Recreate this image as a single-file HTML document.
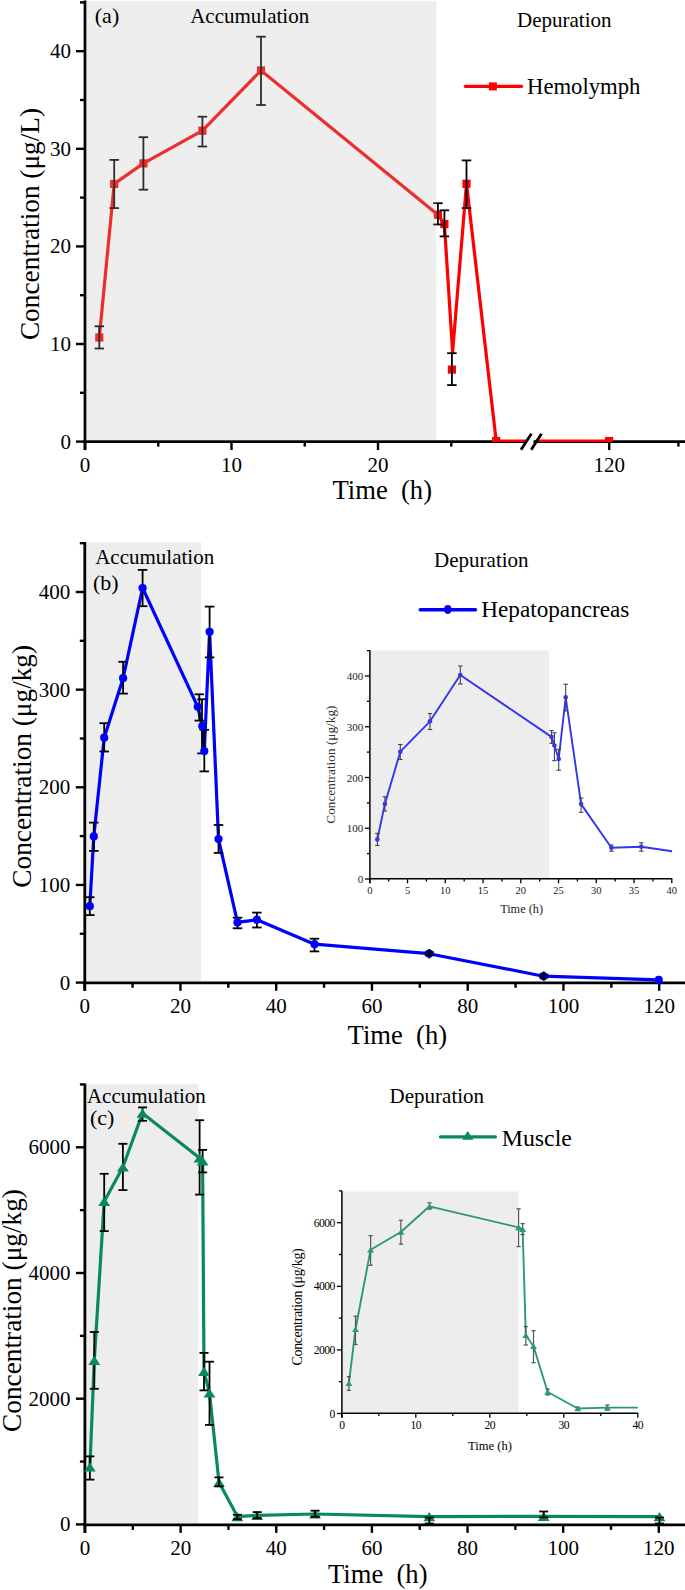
<!DOCTYPE html>
<html><head><meta charset="utf-8"><style>
html,body{margin:0;padding:0;background:#fff;}
svg{display:block;}
text{font-family:"Liberation Serif", serif;white-space:pre;}
</style></head><body>
<svg width="685" height="1590" viewBox="0 0 685 1590" font-family='"Liberation Serif", serif'>
<rect width="685" height="1590" fill="#fff"/>
<line x1="85.00" y1="0.50" x2="85.00" y2="450.10" stroke="#000" stroke-width="2.8" />
<line x1="76.00" y1="441.60" x2="85.00" y2="441.60" stroke="#000" stroke-width="2.4" />
<line x1="80.00" y1="392.80" x2="85.00" y2="392.80" stroke="#000" stroke-width="2.4" />
<line x1="76.00" y1="344.00" x2="85.00" y2="344.00" stroke="#000" stroke-width="2.4" />
<line x1="80.00" y1="295.20" x2="85.00" y2="295.20" stroke="#000" stroke-width="2.4" />
<line x1="76.00" y1="246.40" x2="85.00" y2="246.40" stroke="#000" stroke-width="2.4" />
<line x1="80.00" y1="197.60" x2="85.00" y2="197.60" stroke="#000" stroke-width="2.4" />
<line x1="76.00" y1="148.80" x2="85.00" y2="148.80" stroke="#000" stroke-width="2.4" />
<line x1="80.00" y1="100.00" x2="85.00" y2="100.00" stroke="#000" stroke-width="2.4" />
<line x1="76.00" y1="51.20" x2="85.00" y2="51.20" stroke="#000" stroke-width="2.4" />
<line x1="80.00" y1="2.40" x2="85.00" y2="2.40" stroke="#000" stroke-width="2.4" />
<text x="71.00" y="448.60" font-size="21" text-anchor="end" fill="#000" >0</text>
<text x="71.00" y="351.00" font-size="21" text-anchor="end" fill="#000" >10</text>
<text x="71.00" y="253.40" font-size="21" text-anchor="end" fill="#000" >20</text>
<text x="71.00" y="155.80" font-size="21" text-anchor="end" fill="#000" >30</text>
<text x="71.00" y="58.20" font-size="21" text-anchor="end" fill="#000" >40</text>
<line x1="83.60" y1="441.60" x2="524.50" y2="441.60" stroke="#000" stroke-width="2.8" />
<line x1="533.50" y1="441.60" x2="685.00" y2="441.60" stroke="#000" stroke-width="2.8" />
<line x1="85.00" y1="441.60" x2="85.00" y2="450.10" stroke="#000" stroke-width="2.4" />
<text x="85.00" y="471.50" font-size="21" text-anchor="middle" fill="#000" >0</text>
<line x1="231.50" y1="441.60" x2="231.50" y2="450.10" stroke="#000" stroke-width="2.4" />
<text x="231.50" y="471.50" font-size="21" text-anchor="middle" fill="#000" >10</text>
<line x1="378.00" y1="441.60" x2="378.00" y2="450.10" stroke="#000" stroke-width="2.4" />
<text x="378.00" y="471.50" font-size="21" text-anchor="middle" fill="#000" >20</text>
<line x1="158.25" y1="441.60" x2="158.25" y2="446.60" stroke="#000" stroke-width="2.4" />
<line x1="304.75" y1="441.60" x2="304.75" y2="446.60" stroke="#000" stroke-width="2.4" />
<line x1="451.25" y1="441.60" x2="451.25" y2="446.60" stroke="#000" stroke-width="2.4" />
<line x1="609.20" y1="441.60" x2="609.20" y2="450.10" stroke="#000" stroke-width="2.4" />
<text x="609.20" y="471.50" font-size="21" text-anchor="middle" fill="#000" >120</text>
<line x1="678.40" y1="441.60" x2="678.40" y2="446.60" stroke="#000" stroke-width="2.4" />
<clipPath id="ca"><rect x="0" y="0" width="685" height="442"/></clipPath>
<g clip-path="url(#ca)">
<polyline points="99.30,337.50 114.20,183.90 143.40,163.40 202.40,130.70 261.00,70.50 437.90,214.70 444.40,224.10 452.60,352.00 466.50,183.80 496.20,441.00" fill="none" stroke="#ff0000" stroke-width="3.2" stroke-linejoin="round" />
<line x1="496.20" y1="441.00" x2="526.00" y2="441.00" stroke="#ff0000" stroke-width="3.0" />
<line x1="536.00" y1="441.00" x2="609.00" y2="441.00" stroke="#ff0000" stroke-width="3.0" />
<rect x="95.20" y="333.40" width="8.2" height="8.2" fill="#ff0000"/>
<rect x="110.10" y="179.80" width="8.2" height="8.2" fill="#ff0000"/>
<rect x="139.30" y="159.30" width="8.2" height="8.2" fill="#ff0000"/>
<rect x="198.30" y="126.60" width="8.2" height="8.2" fill="#ff0000"/>
<rect x="256.90" y="66.40" width="8.2" height="8.2" fill="#ff0000"/>
<rect x="433.80" y="210.60" width="8.2" height="8.2" fill="#ff0000"/>
<rect x="440.30" y="220.00" width="8.2" height="8.2" fill="#ff0000"/>
<rect x="462.40" y="179.70" width="8.2" height="8.2" fill="#ff0000"/>
<rect x="492.10" y="436.90" width="8.2" height="8.2" fill="#ff0000"/>
<rect x="447.80" y="365.50" width="8.2" height="8.2" fill="#ff0000"/>
<rect x="604.90" y="436.90" width="8.2" height="8.2" fill="#ff0000"/>
</g>
<line x1="99.30" y1="326.30" x2="99.30" y2="348.50" stroke="#000" stroke-width="1.8" />
<line x1="94.55" y1="326.30" x2="104.05" y2="326.30" stroke="#000" stroke-width="1.8" />
<line x1="94.55" y1="348.50" x2="104.05" y2="348.50" stroke="#000" stroke-width="1.8" />
<line x1="114.20" y1="159.90" x2="114.20" y2="208.10" stroke="#000" stroke-width="1.8" />
<line x1="109.45" y1="159.90" x2="118.95" y2="159.90" stroke="#000" stroke-width="1.8" />
<line x1="109.45" y1="208.10" x2="118.95" y2="208.10" stroke="#000" stroke-width="1.8" />
<line x1="143.40" y1="137.20" x2="143.40" y2="189.70" stroke="#000" stroke-width="1.8" />
<line x1="138.65" y1="137.20" x2="148.15" y2="137.20" stroke="#000" stroke-width="1.8" />
<line x1="138.65" y1="189.70" x2="148.15" y2="189.70" stroke="#000" stroke-width="1.8" />
<line x1="202.40" y1="116.70" x2="202.40" y2="146.50" stroke="#000" stroke-width="1.8" />
<line x1="197.65" y1="116.70" x2="207.15" y2="116.70" stroke="#000" stroke-width="1.8" />
<line x1="197.65" y1="146.50" x2="207.15" y2="146.50" stroke="#000" stroke-width="1.8" />
<line x1="261.00" y1="36.70" x2="261.00" y2="105.00" stroke="#000" stroke-width="1.8" />
<line x1="256.25" y1="36.70" x2="265.75" y2="36.70" stroke="#000" stroke-width="1.8" />
<line x1="256.25" y1="105.00" x2="265.75" y2="105.00" stroke="#000" stroke-width="1.8" />
<line x1="437.90" y1="203.20" x2="437.90" y2="224.50" stroke="#000" stroke-width="1.8" />
<line x1="433.15" y1="203.20" x2="442.65" y2="203.20" stroke="#000" stroke-width="1.8" />
<line x1="433.15" y1="224.50" x2="442.65" y2="224.50" stroke="#000" stroke-width="1.8" />
<line x1="444.40" y1="210.30" x2="444.40" y2="236.40" stroke="#000" stroke-width="1.8" />
<line x1="439.65" y1="210.30" x2="449.15" y2="210.30" stroke="#000" stroke-width="1.8" />
<line x1="439.65" y1="236.40" x2="449.15" y2="236.40" stroke="#000" stroke-width="1.8" />
<line x1="451.90" y1="353.20" x2="451.90" y2="385.10" stroke="#000" stroke-width="1.8" />
<line x1="447.15" y1="353.20" x2="456.65" y2="353.20" stroke="#000" stroke-width="1.8" />
<line x1="447.15" y1="385.10" x2="456.65" y2="385.10" stroke="#000" stroke-width="1.8" />
<line x1="466.50" y1="160.40" x2="466.50" y2="208.10" stroke="#000" stroke-width="1.8" />
<line x1="461.75" y1="160.40" x2="471.25" y2="160.40" stroke="#000" stroke-width="1.8" />
<line x1="461.75" y1="208.10" x2="471.25" y2="208.10" stroke="#000" stroke-width="1.8" />
<rect x="86.4" y="1" width="350.0" height="439.20000000000005" fill="rgb(185,185,185)" fill-opacity="0.243"/>
<polygon points="520.5,450 524.5,450 535.5,433.5 531.5,433.5" fill="#fff"/>
<line x1="521.00" y1="449.80" x2="531.40" y2="433.80" stroke="#000" stroke-width="2.8" />
<line x1="531.20" y1="449.80" x2="541.50" y2="433.80" stroke="#000" stroke-width="2.8" />
<text x="94.80" y="22.80" font-size="22" text-anchor="start" fill="#000" >(a)</text>
<text x="190.20" y="22.70" font-size="21" text-anchor="start" fill="#000" >Accumulation</text>
<text x="517.00" y="26.80" font-size="21" text-anchor="start" fill="#000" >Depuration</text>
<line x1="465.30" y1="86.30" x2="521.50" y2="86.30" stroke="#ff0000" stroke-width="3.3" stroke-linecap="round"/>
<rect x="488.90" y="82.40" width="8" height="8" fill="#ff0000"/>
<text x="527.00" y="94.30" font-size="22.7" text-anchor="start" fill="#000" >Hemolymph</text>
<text x="332.50" y="499.40" font-size="26.6" text-anchor="start" fill="#000" >Time  (h)</text>
<text transform="translate(39.4,224) rotate(-90)" font-size="27.3" text-anchor="middle">Concentration (μg/L)</text>
<rect x="86.2" y="542.5" width="114.99999999999999" height="438.9" fill="#ededed"/>
<line x1="84.80" y1="542.00" x2="84.80" y2="990.80" stroke="#000" stroke-width="2.8" />
<line x1="75.80" y1="982.60" x2="84.80" y2="982.60" stroke="#000" stroke-width="2.4" />
<line x1="79.80" y1="933.77" x2="84.80" y2="933.77" stroke="#000" stroke-width="2.4" />
<line x1="75.80" y1="884.95" x2="84.80" y2="884.95" stroke="#000" stroke-width="2.4" />
<line x1="79.80" y1="836.12" x2="84.80" y2="836.12" stroke="#000" stroke-width="2.4" />
<line x1="75.80" y1="787.30" x2="84.80" y2="787.30" stroke="#000" stroke-width="2.4" />
<line x1="79.80" y1="738.48" x2="84.80" y2="738.48" stroke="#000" stroke-width="2.4" />
<line x1="75.80" y1="689.65" x2="84.80" y2="689.65" stroke="#000" stroke-width="2.4" />
<line x1="79.80" y1="640.83" x2="84.80" y2="640.83" stroke="#000" stroke-width="2.4" />
<line x1="75.80" y1="592.00" x2="84.80" y2="592.00" stroke="#000" stroke-width="2.4" />
<line x1="79.80" y1="543.17" x2="84.80" y2="543.17" stroke="#000" stroke-width="2.4" />
<text x="70.30" y="989.60" font-size="21" text-anchor="end" fill="#000" >0</text>
<text x="70.30" y="891.95" font-size="21" text-anchor="end" fill="#000" >100</text>
<text x="70.30" y="794.30" font-size="21" text-anchor="end" fill="#000" >200</text>
<text x="70.30" y="696.65" font-size="21" text-anchor="end" fill="#000" >300</text>
<text x="70.30" y="599.00" font-size="21" text-anchor="end" fill="#000" >400</text>
<line x1="83.40" y1="982.80" x2="685.00" y2="982.80" stroke="#000" stroke-width="2.8" />
<line x1="84.70" y1="982.80" x2="84.70" y2="990.80" stroke="#000" stroke-width="2.4" />
<line x1="132.57" y1="982.80" x2="132.57" y2="987.80" stroke="#000" stroke-width="2.4" />
<line x1="180.45" y1="982.80" x2="180.45" y2="990.80" stroke="#000" stroke-width="2.4" />
<line x1="228.32" y1="982.80" x2="228.32" y2="987.80" stroke="#000" stroke-width="2.4" />
<line x1="276.20" y1="982.80" x2="276.20" y2="990.80" stroke="#000" stroke-width="2.4" />
<line x1="324.07" y1="982.80" x2="324.07" y2="987.80" stroke="#000" stroke-width="2.4" />
<line x1="371.95" y1="982.80" x2="371.95" y2="990.80" stroke="#000" stroke-width="2.4" />
<line x1="419.82" y1="982.80" x2="419.82" y2="987.80" stroke="#000" stroke-width="2.4" />
<line x1="467.70" y1="982.80" x2="467.70" y2="990.80" stroke="#000" stroke-width="2.4" />
<line x1="515.57" y1="982.80" x2="515.57" y2="987.80" stroke="#000" stroke-width="2.4" />
<line x1="563.45" y1="982.80" x2="563.45" y2="990.80" stroke="#000" stroke-width="2.4" />
<line x1="611.33" y1="982.80" x2="611.33" y2="987.80" stroke="#000" stroke-width="2.4" />
<line x1="659.20" y1="982.80" x2="659.20" y2="990.80" stroke="#000" stroke-width="2.4" />
<text x="84.70" y="1013.00" font-size="21" text-anchor="middle" fill="#000" >0</text>
<text x="180.45" y="1013.00" font-size="21" text-anchor="middle" fill="#000" >20</text>
<text x="276.20" y="1013.00" font-size="21" text-anchor="middle" fill="#000" >40</text>
<text x="371.95" y="1013.00" font-size="21" text-anchor="middle" fill="#000" >60</text>
<text x="467.70" y="1013.00" font-size="21" text-anchor="middle" fill="#000" >80</text>
<text x="563.45" y="1013.00" font-size="21" text-anchor="middle" fill="#000" >100</text>
<text x="659.20" y="1013.00" font-size="21" text-anchor="middle" fill="#000" >120</text>
<polyline points="89.80,906.20 93.80,836.40 104.20,737.70 123.10,678.20 142.60,588.00 197.80,706.80 202.30,726.20 204.30,751.00 209.60,631.80 218.50,839.10 237.50,922.40 256.90,919.70 314.50,944.20 429.10,953.70 543.50,976.20 658.70,979.90" fill="none" stroke="#0000ff" stroke-width="3.2" stroke-linejoin="round" />
<line x1="89.80" y1="897.20" x2="89.80" y2="915.10" stroke="#000" stroke-width="1.8" />
<line x1="85.05" y1="897.20" x2="94.55" y2="897.20" stroke="#000" stroke-width="1.8" />
<line x1="85.05" y1="915.10" x2="94.55" y2="915.10" stroke="#000" stroke-width="1.8" />
<line x1="93.80" y1="822.60" x2="93.80" y2="850.90" stroke="#000" stroke-width="1.8" />
<line x1="89.05" y1="822.60" x2="98.55" y2="822.60" stroke="#000" stroke-width="1.8" />
<line x1="89.05" y1="850.90" x2="98.55" y2="850.90" stroke="#000" stroke-width="1.8" />
<line x1="104.20" y1="723.20" x2="104.20" y2="751.50" stroke="#000" stroke-width="1.8" />
<line x1="99.45" y1="723.20" x2="108.95" y2="723.20" stroke="#000" stroke-width="1.8" />
<line x1="99.45" y1="751.50" x2="108.95" y2="751.50" stroke="#000" stroke-width="1.8" />
<line x1="123.10" y1="661.80" x2="123.10" y2="693.60" stroke="#000" stroke-width="1.8" />
<line x1="118.35" y1="661.80" x2="127.85" y2="661.80" stroke="#000" stroke-width="1.8" />
<line x1="118.35" y1="693.60" x2="127.85" y2="693.60" stroke="#000" stroke-width="1.8" />
<line x1="142.60" y1="569.90" x2="142.60" y2="606.20" stroke="#000" stroke-width="1.8" />
<line x1="137.85" y1="569.90" x2="147.35" y2="569.90" stroke="#000" stroke-width="1.8" />
<line x1="137.85" y1="606.20" x2="147.35" y2="606.20" stroke="#000" stroke-width="1.8" />
<line x1="199.30" y1="694.30" x2="199.30" y2="720.60" stroke="#000" stroke-width="1.8" />
<line x1="194.55" y1="694.30" x2="204.05" y2="694.30" stroke="#000" stroke-width="1.8" />
<line x1="194.55" y1="720.60" x2="204.05" y2="720.60" stroke="#000" stroke-width="1.8" />
<line x1="202.00" y1="699.30" x2="202.00" y2="753.40" stroke="#000" stroke-width="1.8" />
<line x1="197.25" y1="699.30" x2="206.75" y2="699.30" stroke="#000" stroke-width="1.8" />
<line x1="197.25" y1="753.40" x2="206.75" y2="753.40" stroke="#000" stroke-width="1.8" />
<line x1="204.30" y1="729.80" x2="204.30" y2="771.40" stroke="#000" stroke-width="1.8" />
<line x1="199.55" y1="729.80" x2="209.05" y2="729.80" stroke="#000" stroke-width="1.8" />
<line x1="199.55" y1="771.40" x2="209.05" y2="771.40" stroke="#000" stroke-width="1.8" />
<line x1="209.60" y1="606.60" x2="209.60" y2="657.40" stroke="#000" stroke-width="1.8" />
<line x1="204.85" y1="606.60" x2="214.35" y2="606.60" stroke="#000" stroke-width="1.8" />
<line x1="204.85" y1="657.40" x2="214.35" y2="657.40" stroke="#000" stroke-width="1.8" />
<line x1="218.50" y1="825.00" x2="218.50" y2="852.90" stroke="#000" stroke-width="1.8" />
<line x1="213.75" y1="825.00" x2="223.25" y2="825.00" stroke="#000" stroke-width="1.8" />
<line x1="213.75" y1="852.90" x2="223.25" y2="852.90" stroke="#000" stroke-width="1.8" />
<line x1="237.50" y1="917.70" x2="237.50" y2="928.30" stroke="#000" stroke-width="1.8" />
<line x1="232.75" y1="917.70" x2="242.25" y2="917.70" stroke="#000" stroke-width="1.8" />
<line x1="232.75" y1="928.30" x2="242.25" y2="928.30" stroke="#000" stroke-width="1.8" />
<line x1="256.90" y1="912.60" x2="256.90" y2="927.50" stroke="#000" stroke-width="1.8" />
<line x1="252.15" y1="912.60" x2="261.65" y2="912.60" stroke="#000" stroke-width="1.8" />
<line x1="252.15" y1="927.50" x2="261.65" y2="927.50" stroke="#000" stroke-width="1.8" />
<line x1="314.50" y1="938.70" x2="314.50" y2="951.40" stroke="#000" stroke-width="1.8" />
<line x1="309.75" y1="938.70" x2="319.25" y2="938.70" stroke="#000" stroke-width="1.8" />
<line x1="309.75" y1="951.40" x2="319.25" y2="951.40" stroke="#000" stroke-width="1.8" />
<circle cx="89.80" cy="906.20" r="4.1" fill="#0000ff"/>
<circle cx="93.80" cy="836.40" r="4.1" fill="#0000ff"/>
<circle cx="104.20" cy="737.70" r="4.1" fill="#0000ff"/>
<circle cx="123.10" cy="678.20" r="4.1" fill="#0000ff"/>
<circle cx="142.60" cy="588.00" r="4.1" fill="#0000ff"/>
<circle cx="197.80" cy="706.80" r="4.1" fill="#0000ff"/>
<circle cx="202.30" cy="726.20" r="4.1" fill="#0000ff"/>
<circle cx="204.30" cy="751.00" r="4.1" fill="#0000ff"/>
<circle cx="209.60" cy="631.80" r="4.1" fill="#0000ff"/>
<circle cx="218.50" cy="839.10" r="4.1" fill="#0000ff"/>
<circle cx="237.50" cy="922.40" r="4.1" fill="#0000ff"/>
<circle cx="256.90" cy="919.70" r="4.1" fill="#0000ff"/>
<circle cx="314.50" cy="944.20" r="4.1" fill="#0000ff"/>
<circle cx="429.10" cy="953.70" r="4.1" fill="#0000ff"/>
<circle cx="543.50" cy="976.20" r="4.1" fill="#0000ff"/>
<circle cx="658.70" cy="979.90" r="4.1" fill="#0000ff"/>
<line x1="429.40" y1="949.00" x2="429.40" y2="958.40" stroke="#000" stroke-width="1.8" />
<line x1="424.90" y1="952.20" x2="433.90" y2="952.20" stroke="#000" stroke-width="1.8" />
<line x1="424.90" y1="955.20" x2="433.90" y2="955.20" stroke="#000" stroke-width="1.8" />
<line x1="543.80" y1="971.40" x2="543.80" y2="980.80" stroke="#000" stroke-width="1.8" />
<line x1="539.30" y1="974.60" x2="548.30" y2="974.60" stroke="#000" stroke-width="1.8" />
<line x1="539.30" y1="977.60" x2="548.30" y2="977.60" stroke="#000" stroke-width="1.8" />
<text x="95.20" y="564.10" font-size="21" text-anchor="start" fill="#000" >Accumulation</text>
<text x="93.00" y="589.80" font-size="22" text-anchor="start" fill="#000" >(b)</text>
<text x="434.10" y="567.00" font-size="21" text-anchor="start" fill="#000" >Depuration</text>
<line x1="420.20" y1="609.70" x2="475.50" y2="609.70" stroke="#0000ff" stroke-width="3.4" stroke-linecap="round"/>
<ellipse cx="447.8" cy="609.5" rx="3.7" ry="4.4" fill="#0000ff"/>
<text x="481.30" y="617.30" font-size="23.2" text-anchor="start" fill="#000" >Hepatopancreas</text>
<text x="347.60" y="1043.50" font-size="26.6" text-anchor="start" fill="#000" >Time  (h)</text>
<text transform="translate(31.4,766.3) rotate(-90)" font-size="27.3" text-anchor="middle">Concentration (μg/kg)</text>
<rect x="86.30000000000001" y="1083.7" width="112.0" height="439.79999999999995" fill="#ededed"/>
<line x1="84.90" y1="1083.50" x2="84.90" y2="1532.90" stroke="#000" stroke-width="2.8" />
<line x1="75.90" y1="1524.40" x2="84.90" y2="1524.40" stroke="#000" stroke-width="2.4" />
<line x1="79.90" y1="1461.55" x2="84.90" y2="1461.55" stroke="#000" stroke-width="2.4" />
<line x1="75.90" y1="1398.70" x2="84.90" y2="1398.70" stroke="#000" stroke-width="2.4" />
<line x1="79.90" y1="1335.85" x2="84.90" y2="1335.85" stroke="#000" stroke-width="2.4" />
<line x1="75.90" y1="1273.00" x2="84.90" y2="1273.00" stroke="#000" stroke-width="2.4" />
<line x1="79.90" y1="1210.15" x2="84.90" y2="1210.15" stroke="#000" stroke-width="2.4" />
<line x1="75.90" y1="1147.30" x2="84.90" y2="1147.30" stroke="#000" stroke-width="2.4" />
<line x1="79.90" y1="1084.45" x2="84.90" y2="1084.45" stroke="#000" stroke-width="2.4" />
<text x="70.60" y="1531.40" font-size="21" text-anchor="end" fill="#000" >0</text>
<text x="70.60" y="1405.70" font-size="21" text-anchor="end" fill="#000" >2000</text>
<text x="70.60" y="1280.00" font-size="21" text-anchor="end" fill="#000" >4000</text>
<text x="70.60" y="1154.30" font-size="21" text-anchor="end" fill="#000" >6000</text>
<line x1="83.50" y1="1524.90" x2="685.00" y2="1524.90" stroke="#000" stroke-width="2.8" />
<line x1="85.00" y1="1524.90" x2="85.00" y2="1532.90" stroke="#000" stroke-width="2.4" />
<line x1="132.82" y1="1524.90" x2="132.82" y2="1529.90" stroke="#000" stroke-width="2.4" />
<line x1="180.63" y1="1524.90" x2="180.63" y2="1532.90" stroke="#000" stroke-width="2.4" />
<line x1="228.45" y1="1524.90" x2="228.45" y2="1529.90" stroke="#000" stroke-width="2.4" />
<line x1="276.27" y1="1524.90" x2="276.27" y2="1532.90" stroke="#000" stroke-width="2.4" />
<line x1="324.08" y1="1524.90" x2="324.08" y2="1529.90" stroke="#000" stroke-width="2.4" />
<line x1="371.90" y1="1524.90" x2="371.90" y2="1532.90" stroke="#000" stroke-width="2.4" />
<line x1="419.72" y1="1524.90" x2="419.72" y2="1529.90" stroke="#000" stroke-width="2.4" />
<line x1="467.54" y1="1524.90" x2="467.54" y2="1532.90" stroke="#000" stroke-width="2.4" />
<line x1="515.35" y1="1524.90" x2="515.35" y2="1529.90" stroke="#000" stroke-width="2.4" />
<line x1="563.17" y1="1524.90" x2="563.17" y2="1532.90" stroke="#000" stroke-width="2.4" />
<line x1="610.99" y1="1524.90" x2="610.99" y2="1529.90" stroke="#000" stroke-width="2.4" />
<line x1="658.80" y1="1524.90" x2="658.80" y2="1532.90" stroke="#000" stroke-width="2.4" />
<text x="85.00" y="1554.60" font-size="21" text-anchor="middle" fill="#000" >0</text>
<text x="180.63" y="1554.60" font-size="21" text-anchor="middle" fill="#000" >20</text>
<text x="276.27" y="1554.60" font-size="21" text-anchor="middle" fill="#000" >40</text>
<text x="371.90" y="1554.60" font-size="21" text-anchor="middle" fill="#000" >60</text>
<text x="467.54" y="1554.60" font-size="21" text-anchor="middle" fill="#000" >80</text>
<text x="563.17" y="1554.60" font-size="21" text-anchor="middle" fill="#000" >100</text>
<text x="658.80" y="1554.60" font-size="21" text-anchor="middle" fill="#000" >120</text>
<polyline points="89.90,1467.00 94.30,1360.40 104.20,1201.40 122.90,1167.00 142.50,1113.20 199.60,1158.00 202.60,1161.00 204.00,1371.40 209.50,1393.00 219.00,1482.30 237.40,1516.60 257.20,1515.40 315.10,1514.00 429.30,1516.60 543.70,1516.40 659.50,1516.60" fill="none" stroke="#0a8a5a" stroke-width="3.2" stroke-linejoin="round" />
<line x1="89.90" y1="1456.40" x2="89.90" y2="1479.60" stroke="#000" stroke-width="1.8" />
<line x1="85.40" y1="1456.40" x2="94.40" y2="1456.40" stroke="#000" stroke-width="1.8" />
<line x1="85.40" y1="1479.60" x2="94.40" y2="1479.60" stroke="#000" stroke-width="1.8" />
<line x1="94.30" y1="1332.00" x2="94.30" y2="1388.80" stroke="#000" stroke-width="1.8" />
<line x1="89.80" y1="1332.00" x2="98.80" y2="1332.00" stroke="#000" stroke-width="1.8" />
<line x1="89.80" y1="1388.80" x2="98.80" y2="1388.80" stroke="#000" stroke-width="1.8" />
<line x1="104.20" y1="1173.80" x2="104.20" y2="1231.10" stroke="#000" stroke-width="1.8" />
<line x1="99.70" y1="1173.80" x2="108.70" y2="1173.80" stroke="#000" stroke-width="1.8" />
<line x1="99.70" y1="1231.10" x2="108.70" y2="1231.10" stroke="#000" stroke-width="1.8" />
<line x1="122.90" y1="1143.80" x2="122.90" y2="1190.10" stroke="#000" stroke-width="1.8" />
<line x1="118.40" y1="1143.80" x2="127.40" y2="1143.80" stroke="#000" stroke-width="1.8" />
<line x1="118.40" y1="1190.10" x2="127.40" y2="1190.10" stroke="#000" stroke-width="1.8" />
<line x1="142.50" y1="1107.40" x2="142.50" y2="1120.80" stroke="#000" stroke-width="1.8" />
<line x1="138.00" y1="1107.40" x2="147.00" y2="1107.40" stroke="#000" stroke-width="1.8" />
<line x1="138.00" y1="1120.80" x2="147.00" y2="1120.80" stroke="#000" stroke-width="1.8" />
<line x1="199.60" y1="1120.20" x2="199.60" y2="1194.60" stroke="#000" stroke-width="1.8" />
<line x1="195.10" y1="1120.20" x2="204.10" y2="1120.20" stroke="#000" stroke-width="1.8" />
<line x1="195.10" y1="1194.60" x2="204.10" y2="1194.60" stroke="#000" stroke-width="1.8" />
<line x1="202.60" y1="1149.90" x2="202.60" y2="1172.40" stroke="#000" stroke-width="1.8" />
<line x1="198.10" y1="1149.90" x2="207.10" y2="1149.90" stroke="#000" stroke-width="1.8" />
<line x1="198.10" y1="1172.40" x2="207.10" y2="1172.40" stroke="#000" stroke-width="1.8" />
<line x1="204.00" y1="1352.90" x2="204.00" y2="1390.40" stroke="#000" stroke-width="1.8" />
<line x1="199.50" y1="1352.90" x2="208.50" y2="1352.90" stroke="#000" stroke-width="1.8" />
<line x1="199.50" y1="1390.40" x2="208.50" y2="1390.40" stroke="#000" stroke-width="1.8" />
<line x1="209.50" y1="1361.70" x2="209.50" y2="1424.90" stroke="#000" stroke-width="1.8" />
<line x1="205.00" y1="1361.70" x2="214.00" y2="1361.70" stroke="#000" stroke-width="1.8" />
<line x1="205.00" y1="1424.90" x2="214.00" y2="1424.90" stroke="#000" stroke-width="1.8" />
<polygon points="89.90,1462.40 95.80,1471.60 84.00,1471.60" fill="#0a8a5a"/>
<polygon points="94.30,1355.80 100.20,1365.00 88.40,1365.00" fill="#0a8a5a"/>
<polygon points="104.20,1196.80 110.10,1206.00 98.30,1206.00" fill="#0a8a5a"/>
<polygon points="122.90,1162.40 128.80,1171.60 117.00,1171.60" fill="#0a8a5a"/>
<polygon points="142.50,1108.60 148.40,1117.80 136.60,1117.80" fill="#0a8a5a"/>
<polygon points="199.60,1153.40 205.50,1162.60 193.70,1162.60" fill="#0a8a5a"/>
<polygon points="202.60,1156.40 208.50,1165.60 196.70,1165.60" fill="#0a8a5a"/>
<polygon points="204.00,1366.80 209.90,1376.00 198.10,1376.00" fill="#0a8a5a"/>
<polygon points="209.50,1388.40 215.40,1397.60 203.60,1397.60" fill="#0a8a5a"/>
<polygon points="219.00,1477.70 224.90,1486.90 213.10,1486.90" fill="#0a8a5a"/>
<polygon points="237.40,1512.00 243.30,1521.20 231.50,1521.20" fill="#0a8a5a"/>
<polygon points="257.20,1510.80 263.10,1520.00 251.30,1520.00" fill="#0a8a5a"/>
<polygon points="315.10,1509.40 321.00,1518.60 309.20,1518.60" fill="#0a8a5a"/>
<polygon points="429.30,1512.00 435.20,1521.20 423.40,1521.20" fill="#0a8a5a"/>
<polygon points="543.70,1511.80 549.60,1521.00 537.80,1521.00" fill="#0a8a5a"/>
<polygon points="659.50,1512.00 665.40,1521.20 653.60,1521.20" fill="#0a8a5a"/>
<line x1="219.00" y1="1477.40" x2="219.00" y2="1486.40" stroke="#000" stroke-width="1.8" />
<line x1="214.50" y1="1477.40" x2="223.50" y2="1477.40" stroke="#000" stroke-width="1.8" />
<line x1="214.50" y1="1486.40" x2="223.50" y2="1486.40" stroke="#000" stroke-width="1.8" />
<line x1="237.40" y1="1514.80" x2="237.40" y2="1519.30" stroke="#000" stroke-width="1.8" />
<line x1="232.90" y1="1514.80" x2="241.90" y2="1514.80" stroke="#000" stroke-width="1.8" />
<line x1="232.90" y1="1519.30" x2="241.90" y2="1519.30" stroke="#000" stroke-width="1.8" />
<line x1="257.20" y1="1512.10" x2="257.20" y2="1518.20" stroke="#000" stroke-width="1.8" />
<line x1="252.70" y1="1512.10" x2="261.70" y2="1512.10" stroke="#000" stroke-width="1.8" />
<line x1="252.70" y1="1518.20" x2="261.70" y2="1518.20" stroke="#000" stroke-width="1.8" />
<line x1="315.10" y1="1510.70" x2="315.10" y2="1516.80" stroke="#000" stroke-width="1.8" />
<line x1="310.60" y1="1510.70" x2="319.60" y2="1510.70" stroke="#000" stroke-width="1.8" />
<line x1="310.60" y1="1516.80" x2="319.60" y2="1516.80" stroke="#000" stroke-width="1.8" />
<line x1="429.30" y1="1517.50" x2="429.30" y2="1523.50" stroke="#000" stroke-width="1.8" />
<line x1="424.80" y1="1517.50" x2="433.80" y2="1517.50" stroke="#000" stroke-width="1.8" />
<line x1="424.80" y1="1523.50" x2="433.80" y2="1523.50" stroke="#000" stroke-width="1.8" />
<line x1="543.70" y1="1511.50" x2="543.70" y2="1517.30" stroke="#000" stroke-width="1.8" />
<line x1="539.20" y1="1511.50" x2="548.20" y2="1511.50" stroke="#000" stroke-width="1.8" />
<line x1="539.20" y1="1517.30" x2="548.20" y2="1517.30" stroke="#000" stroke-width="1.8" />
<line x1="659.50" y1="1517.50" x2="659.50" y2="1523.50" stroke="#000" stroke-width="1.8" />
<line x1="655.00" y1="1517.50" x2="664.00" y2="1517.50" stroke="#000" stroke-width="1.8" />
<line x1="655.00" y1="1523.50" x2="664.00" y2="1523.50" stroke="#000" stroke-width="1.8" />
<text x="86.90" y="1102.90" font-size="21" text-anchor="start" fill="#000" >Accumulation</text>
<text x="90.00" y="1125.20" font-size="22" text-anchor="start" fill="#000" >(c)</text>
<text x="389.60" y="1103.40" font-size="21" text-anchor="start" fill="#000" >Depuration</text>
<line x1="440.50" y1="1136.90" x2="495.40" y2="1136.90" stroke="#0a8a5a" stroke-width="3.3" stroke-linecap="round"/>
<polygon points="467.80,1131.10 473.45,1139.70 462.15,1139.70" fill="#0a8a5a"/>
<text x="501.80" y="1146.00" font-size="23.8" text-anchor="start" fill="#000" >Muscle</text>
<text x="328.00" y="1583.30" font-size="26.6" text-anchor="start" fill="#000" >Time  (h)</text>
<text transform="translate(21.3,1310.5) rotate(-90)" font-size="27.3" text-anchor="middle">Concentration (μg/kg)</text>
<rect x="370.7" y="650.5" width="178.50000000000006" height="227.5" fill="#ededed"/>
<line x1="369.90" y1="650.00" x2="369.90" y2="883.30" stroke="#000" stroke-width="1.5" />
<line x1="364.90" y1="879.00" x2="369.90" y2="879.00" stroke="#000" stroke-width="1.3" />
<line x1="366.90" y1="853.62" x2="369.90" y2="853.62" stroke="#000" stroke-width="1.3" />
<line x1="364.90" y1="828.25" x2="369.90" y2="828.25" stroke="#000" stroke-width="1.3" />
<line x1="366.90" y1="802.88" x2="369.90" y2="802.88" stroke="#000" stroke-width="1.3" />
<line x1="364.90" y1="777.50" x2="369.90" y2="777.50" stroke="#000" stroke-width="1.3" />
<line x1="366.90" y1="752.12" x2="369.90" y2="752.12" stroke="#000" stroke-width="1.3" />
<line x1="364.90" y1="726.75" x2="369.90" y2="726.75" stroke="#000" stroke-width="1.3" />
<line x1="366.90" y1="701.38" x2="369.90" y2="701.38" stroke="#000" stroke-width="1.3" />
<line x1="364.90" y1="676.00" x2="369.90" y2="676.00" stroke="#000" stroke-width="1.3" />
<line x1="366.90" y1="650.62" x2="369.90" y2="650.62" stroke="#000" stroke-width="1.3" />
<text x="363.20" y="883.00" font-size="11" text-anchor="end" fill="#222" >0</text>
<text x="363.20" y="832.25" font-size="11" text-anchor="end" fill="#222" >100</text>
<text x="363.20" y="781.50" font-size="11" text-anchor="end" fill="#222" >200</text>
<text x="363.20" y="730.75" font-size="11" text-anchor="end" fill="#222" >300</text>
<text x="363.20" y="680.00" font-size="11" text-anchor="end" fill="#222" >400</text>
<line x1="369.10" y1="878.80" x2="672.20" y2="878.80" stroke="#000" stroke-width="1.5" />
<line x1="369.80" y1="878.80" x2="369.80" y2="883.30" stroke="#000" stroke-width="1.3" />
<line x1="388.68" y1="878.80" x2="388.68" y2="881.60" stroke="#000" stroke-width="1.3" />
<line x1="407.55" y1="878.80" x2="407.55" y2="883.30" stroke="#000" stroke-width="1.3" />
<line x1="426.43" y1="878.80" x2="426.43" y2="881.60" stroke="#000" stroke-width="1.3" />
<line x1="445.30" y1="878.80" x2="445.30" y2="883.30" stroke="#000" stroke-width="1.3" />
<line x1="464.18" y1="878.80" x2="464.18" y2="881.60" stroke="#000" stroke-width="1.3" />
<line x1="483.05" y1="878.80" x2="483.05" y2="883.30" stroke="#000" stroke-width="1.3" />
<line x1="501.93" y1="878.80" x2="501.93" y2="881.60" stroke="#000" stroke-width="1.3" />
<line x1="520.80" y1="878.80" x2="520.80" y2="883.30" stroke="#000" stroke-width="1.3" />
<line x1="539.67" y1="878.80" x2="539.67" y2="881.60" stroke="#000" stroke-width="1.3" />
<line x1="558.55" y1="878.80" x2="558.55" y2="883.30" stroke="#000" stroke-width="1.3" />
<line x1="577.42" y1="878.80" x2="577.42" y2="881.60" stroke="#000" stroke-width="1.3" />
<line x1="596.30" y1="878.80" x2="596.30" y2="883.30" stroke="#000" stroke-width="1.3" />
<line x1="615.17" y1="878.80" x2="615.17" y2="881.60" stroke="#000" stroke-width="1.3" />
<line x1="634.05" y1="878.80" x2="634.05" y2="883.30" stroke="#000" stroke-width="1.3" />
<line x1="652.92" y1="878.80" x2="652.92" y2="881.60" stroke="#000" stroke-width="1.3" />
<line x1="671.80" y1="878.80" x2="671.80" y2="883.30" stroke="#000" stroke-width="1.3" />
<text x="369.80" y="893.60" font-size="10.5" text-anchor="middle" fill="#222" >0</text>
<text x="407.55" y="893.60" font-size="10.5" text-anchor="middle" fill="#222" >5</text>
<text x="445.30" y="893.60" font-size="10.5" text-anchor="middle" fill="#222" >10</text>
<text x="483.05" y="893.60" font-size="10.5" text-anchor="middle" fill="#222" >15</text>
<text x="520.80" y="893.60" font-size="10.5" text-anchor="middle" fill="#222" >20</text>
<text x="558.55" y="893.60" font-size="10.5" text-anchor="middle" fill="#222" >25</text>
<text x="596.30" y="893.60" font-size="10.5" text-anchor="middle" fill="#222" >30</text>
<text x="634.05" y="893.60" font-size="10.5" text-anchor="middle" fill="#222" >35</text>
<text x="671.80" y="893.60" font-size="10.5" text-anchor="middle" fill="#222" >40</text>
<text x="521.60" y="912.90" font-size="12.3" text-anchor="middle" fill="#222" >Time (h)</text>
<text transform="translate(334.8,764.6) rotate(-90)" font-size="13.3" text-anchor="middle" fill="#333">Concentration (μg/kg)</text>
<clipPath id="cib"><rect x="370" y="640" width="302.5" height="240"/></clipPath>
<g clip-path="url(#cib)">
<polyline points="377.35,839.41 384.90,803.89 400.30,751.70 430.00,721.30 460.30,675.00 551.50,736.90 554.40,745.50 558.70,758.90 565.70,697.30 581.10,804.10 611.40,847.80 641.30,846.70 672.10,851.20" fill="none" stroke="#3535ee" stroke-width="1.9" stroke-linejoin="round" />
</g>
<line x1="377.35" y1="833.33" x2="377.35" y2="845.50" stroke="#444" stroke-width="1.1" />
<line x1="375.10" y1="833.33" x2="379.60" y2="833.33" stroke="#444" stroke-width="1.1" />
<line x1="375.10" y1="845.50" x2="379.60" y2="845.50" stroke="#444" stroke-width="1.1" />
<line x1="384.90" y1="796.78" x2="384.90" y2="811.00" stroke="#444" stroke-width="1.1" />
<line x1="382.65" y1="796.78" x2="387.15" y2="796.78" stroke="#444" stroke-width="1.1" />
<line x1="382.65" y1="811.00" x2="387.15" y2="811.00" stroke="#444" stroke-width="1.1" />
<line x1="400.30" y1="744.50" x2="400.30" y2="759.50" stroke="#444" stroke-width="1.1" />
<line x1="398.05" y1="744.50" x2="402.55" y2="744.50" stroke="#444" stroke-width="1.1" />
<line x1="398.05" y1="759.50" x2="402.55" y2="759.50" stroke="#444" stroke-width="1.1" />
<line x1="430.00" y1="713.50" x2="430.00" y2="729.50" stroke="#444" stroke-width="1.1" />
<line x1="427.75" y1="713.50" x2="432.25" y2="713.50" stroke="#444" stroke-width="1.1" />
<line x1="427.75" y1="729.50" x2="432.25" y2="729.50" stroke="#444" stroke-width="1.1" />
<line x1="460.30" y1="666.00" x2="460.30" y2="684.00" stroke="#444" stroke-width="1.1" />
<line x1="458.05" y1="666.00" x2="462.55" y2="666.00" stroke="#444" stroke-width="1.1" />
<line x1="458.05" y1="684.00" x2="462.55" y2="684.00" stroke="#444" stroke-width="1.1" />
<line x1="551.50" y1="730.60" x2="551.50" y2="743.30" stroke="#444" stroke-width="1.1" />
<line x1="549.25" y1="730.60" x2="553.75" y2="730.60" stroke="#444" stroke-width="1.1" />
<line x1="549.25" y1="743.30" x2="553.75" y2="743.30" stroke="#444" stroke-width="1.1" />
<line x1="554.40" y1="732.80" x2="554.40" y2="760.70" stroke="#444" stroke-width="1.1" />
<line x1="552.15" y1="732.80" x2="556.65" y2="732.80" stroke="#444" stroke-width="1.1" />
<line x1="552.15" y1="760.70" x2="556.65" y2="760.70" stroke="#444" stroke-width="1.1" />
<line x1="558.70" y1="749.40" x2="558.70" y2="770.20" stroke="#444" stroke-width="1.1" />
<line x1="556.45" y1="749.40" x2="560.95" y2="749.40" stroke="#444" stroke-width="1.1" />
<line x1="556.45" y1="770.20" x2="560.95" y2="770.20" stroke="#444" stroke-width="1.1" />
<line x1="565.70" y1="684.20" x2="565.70" y2="710.90" stroke="#444" stroke-width="1.1" />
<line x1="563.45" y1="684.20" x2="567.95" y2="684.20" stroke="#444" stroke-width="1.1" />
<line x1="563.45" y1="710.90" x2="567.95" y2="710.90" stroke="#444" stroke-width="1.1" />
<line x1="581.10" y1="798.00" x2="581.10" y2="812.30" stroke="#444" stroke-width="1.1" />
<line x1="578.85" y1="798.00" x2="583.35" y2="798.00" stroke="#444" stroke-width="1.1" />
<line x1="578.85" y1="812.30" x2="583.35" y2="812.30" stroke="#444" stroke-width="1.1" />
<line x1="611.40" y1="845.00" x2="611.40" y2="851.20" stroke="#444" stroke-width="1.1" />
<line x1="609.15" y1="845.00" x2="613.65" y2="845.00" stroke="#444" stroke-width="1.1" />
<line x1="609.15" y1="851.20" x2="613.65" y2="851.20" stroke="#444" stroke-width="1.1" />
<line x1="641.30" y1="842.80" x2="641.30" y2="851.20" stroke="#444" stroke-width="1.1" />
<line x1="639.05" y1="842.80" x2="643.55" y2="842.80" stroke="#444" stroke-width="1.1" />
<line x1="639.05" y1="851.20" x2="643.55" y2="851.20" stroke="#444" stroke-width="1.1" />
<circle cx="377.35" cy="839.41" r="2.3" fill="#3535ee"/>
<circle cx="384.90" cy="803.89" r="2.3" fill="#3535ee"/>
<circle cx="400.30" cy="751.70" r="2.3" fill="#3535ee"/>
<circle cx="430.00" cy="721.30" r="2.3" fill="#3535ee"/>
<circle cx="460.30" cy="675.00" r="2.3" fill="#3535ee"/>
<circle cx="551.50" cy="736.90" r="2.3" fill="#3535ee"/>
<circle cx="554.40" cy="745.50" r="2.3" fill="#3535ee"/>
<circle cx="558.70" cy="758.90" r="2.3" fill="#3535ee"/>
<circle cx="565.70" cy="697.30" r="2.3" fill="#3535ee"/>
<circle cx="581.10" cy="804.10" r="2.3" fill="#3535ee"/>
<circle cx="611.40" cy="847.80" r="2.3" fill="#3535ee"/>
<circle cx="641.30" cy="846.70" r="2.3" fill="#3535ee"/>
<rect x="342.7" y="1191.5" width="175.8" height="221.0" fill="#ededed"/>
<line x1="341.90" y1="1190.80" x2="341.90" y2="1417.80" stroke="#000" stroke-width="1.5" />
<line x1="336.90" y1="1413.50" x2="341.90" y2="1413.50" stroke="#000" stroke-width="1.3" />
<line x1="338.90" y1="1381.70" x2="341.90" y2="1381.70" stroke="#000" stroke-width="1.3" />
<line x1="336.90" y1="1349.90" x2="341.90" y2="1349.90" stroke="#000" stroke-width="1.3" />
<line x1="338.90" y1="1318.10" x2="341.90" y2="1318.10" stroke="#000" stroke-width="1.3" />
<line x1="336.90" y1="1286.30" x2="341.90" y2="1286.30" stroke="#000" stroke-width="1.3" />
<line x1="338.90" y1="1254.50" x2="341.90" y2="1254.50" stroke="#000" stroke-width="1.3" />
<line x1="336.90" y1="1222.70" x2="341.90" y2="1222.70" stroke="#000" stroke-width="1.3" />
<line x1="338.90" y1="1190.90" x2="341.90" y2="1190.90" stroke="#000" stroke-width="1.3" />
<text x="334.80" y="1417.50" font-size="11.6" text-anchor="end" fill="#000" letter-spacing="-0.55">0</text>
<text x="334.80" y="1353.90" font-size="11.6" text-anchor="end" fill="#000" letter-spacing="-0.55">2000</text>
<text x="334.80" y="1290.30" font-size="11.6" text-anchor="end" fill="#000" letter-spacing="-0.55">4000</text>
<text x="334.80" y="1226.70" font-size="11.6" text-anchor="end" fill="#000" letter-spacing="-0.55">6000</text>
<line x1="341.10" y1="1413.30" x2="638.20" y2="1413.30" stroke="#000" stroke-width="1.5" />
<line x1="341.80" y1="1413.30" x2="341.80" y2="1417.80" stroke="#000" stroke-width="1.3" />
<line x1="378.80" y1="1413.30" x2="378.80" y2="1416.10" stroke="#000" stroke-width="1.3" />
<line x1="415.80" y1="1413.30" x2="415.80" y2="1417.80" stroke="#000" stroke-width="1.3" />
<line x1="452.80" y1="1413.30" x2="452.80" y2="1416.10" stroke="#000" stroke-width="1.3" />
<line x1="489.80" y1="1413.30" x2="489.80" y2="1417.80" stroke="#000" stroke-width="1.3" />
<line x1="526.80" y1="1413.30" x2="526.80" y2="1416.10" stroke="#000" stroke-width="1.3" />
<line x1="563.80" y1="1413.30" x2="563.80" y2="1417.80" stroke="#000" stroke-width="1.3" />
<line x1="600.80" y1="1413.30" x2="600.80" y2="1416.10" stroke="#000" stroke-width="1.3" />
<line x1="637.80" y1="1413.30" x2="637.80" y2="1417.80" stroke="#000" stroke-width="1.3" />
<text x="341.80" y="1429.00" font-size="11.6" text-anchor="middle" fill="#000" letter-spacing="-0.55">0</text>
<text x="415.80" y="1429.00" font-size="11.6" text-anchor="middle" fill="#000" letter-spacing="-0.55">10</text>
<text x="489.80" y="1429.00" font-size="11.6" text-anchor="middle" fill="#000" letter-spacing="-0.55">20</text>
<text x="563.80" y="1429.00" font-size="11.6" text-anchor="middle" fill="#000" letter-spacing="-0.55">30</text>
<text x="637.80" y="1429.00" font-size="11.6" text-anchor="middle" fill="#000" letter-spacing="-0.55">40</text>
<text x="489.90" y="1450.30" font-size="12.6" text-anchor="middle" fill="#000" >Time (h)</text>
<text transform="translate(301.6,1307) rotate(-90)" font-size="13.9" text-anchor="middle" letter-spacing="-0.32">Concentration (μg/kg)</text>
<polyline points="348.90,1383.30 355.50,1329.20 370.60,1249.80 400.90,1232.00 429.50,1206.30 518.60,1227.40 522.60,1229.10 525.80,1335.30 533.50,1346.30 547.70,1392.00 577.70,1408.50 607.30,1407.60 637.80,1407.60" fill="none" stroke="#2a9a72" stroke-width="1.9" stroke-linejoin="round" />
<line x1="348.90" y1="1376.60" x2="348.90" y2="1390.40" stroke="#555" stroke-width="1.2" />
<line x1="346.80" y1="1376.60" x2="351.00" y2="1376.60" stroke="#555" stroke-width="1.2" />
<line x1="346.80" y1="1390.40" x2="351.00" y2="1390.40" stroke="#555" stroke-width="1.2" />
<line x1="355.50" y1="1316.20" x2="355.50" y2="1344.50" stroke="#555" stroke-width="1.2" />
<line x1="353.40" y1="1316.20" x2="357.60" y2="1316.20" stroke="#555" stroke-width="1.2" />
<line x1="353.40" y1="1344.50" x2="357.60" y2="1344.50" stroke="#555" stroke-width="1.2" />
<line x1="370.60" y1="1235.70" x2="370.60" y2="1265.30" stroke="#555" stroke-width="1.2" />
<line x1="368.50" y1="1235.70" x2="372.70" y2="1235.70" stroke="#555" stroke-width="1.2" />
<line x1="368.50" y1="1265.30" x2="372.70" y2="1265.30" stroke="#555" stroke-width="1.2" />
<line x1="400.90" y1="1220.30" x2="400.90" y2="1244.20" stroke="#555" stroke-width="1.2" />
<line x1="398.80" y1="1220.30" x2="403.00" y2="1220.30" stroke="#555" stroke-width="1.2" />
<line x1="398.80" y1="1244.20" x2="403.00" y2="1244.20" stroke="#555" stroke-width="1.2" />
<line x1="429.50" y1="1202.80" x2="429.50" y2="1209.20" stroke="#555" stroke-width="1.2" />
<line x1="427.40" y1="1202.80" x2="431.60" y2="1202.80" stroke="#555" stroke-width="1.2" />
<line x1="427.40" y1="1209.20" x2="431.60" y2="1209.20" stroke="#555" stroke-width="1.2" />
<line x1="518.60" y1="1208.80" x2="518.60" y2="1246.60" stroke="#555" stroke-width="1.2" />
<line x1="516.50" y1="1208.80" x2="520.70" y2="1208.80" stroke="#555" stroke-width="1.2" />
<line x1="516.50" y1="1246.60" x2="520.70" y2="1246.60" stroke="#555" stroke-width="1.2" />
<line x1="522.60" y1="1223.60" x2="522.60" y2="1234.60" stroke="#555" stroke-width="1.2" />
<line x1="520.50" y1="1223.60" x2="524.70" y2="1223.60" stroke="#555" stroke-width="1.2" />
<line x1="520.50" y1="1234.60" x2="524.70" y2="1234.60" stroke="#555" stroke-width="1.2" />
<line x1="525.80" y1="1326.60" x2="525.80" y2="1345.00" stroke="#555" stroke-width="1.2" />
<line x1="523.70" y1="1326.60" x2="527.90" y2="1326.60" stroke="#555" stroke-width="1.2" />
<line x1="523.70" y1="1345.00" x2="527.90" y2="1345.00" stroke="#555" stroke-width="1.2" />
<line x1="533.50" y1="1330.70" x2="533.50" y2="1362.70" stroke="#555" stroke-width="1.2" />
<line x1="531.40" y1="1330.70" x2="535.60" y2="1330.70" stroke="#555" stroke-width="1.2" />
<line x1="531.40" y1="1362.70" x2="535.60" y2="1362.70" stroke="#555" stroke-width="1.2" />
<line x1="547.70" y1="1389.00" x2="547.70" y2="1395.00" stroke="#555" stroke-width="1.2" />
<line x1="545.60" y1="1389.00" x2="549.80" y2="1389.00" stroke="#555" stroke-width="1.2" />
<line x1="545.60" y1="1395.00" x2="549.80" y2="1395.00" stroke="#555" stroke-width="1.2" />
<line x1="577.70" y1="1407.00" x2="577.70" y2="1410.00" stroke="#555" stroke-width="1.2" />
<line x1="575.60" y1="1407.00" x2="579.80" y2="1407.00" stroke="#555" stroke-width="1.2" />
<line x1="575.60" y1="1410.00" x2="579.80" y2="1410.00" stroke="#555" stroke-width="1.2" />
<line x1="607.30" y1="1405.00" x2="607.30" y2="1410.00" stroke="#555" stroke-width="1.2" />
<line x1="605.20" y1="1405.00" x2="609.40" y2="1405.00" stroke="#555" stroke-width="1.2" />
<line x1="605.20" y1="1410.00" x2="609.40" y2="1410.00" stroke="#555" stroke-width="1.2" />
<polygon points="348.90,1380.50 352.40,1386.10 345.40,1386.10" fill="#2a9a72"/>
<polygon points="355.50,1326.40 359.00,1332.00 352.00,1332.00" fill="#2a9a72"/>
<polygon points="370.60,1247.00 374.10,1252.60 367.10,1252.60" fill="#2a9a72"/>
<polygon points="400.90,1229.20 404.40,1234.80 397.40,1234.80" fill="#2a9a72"/>
<polygon points="429.50,1203.50 433.00,1209.10 426.00,1209.10" fill="#2a9a72"/>
<polygon points="518.60,1224.60 522.10,1230.20 515.10,1230.20" fill="#2a9a72"/>
<polygon points="522.60,1226.30 526.10,1231.90 519.10,1231.90" fill="#2a9a72"/>
<polygon points="525.80,1332.50 529.30,1338.10 522.30,1338.10" fill="#2a9a72"/>
<polygon points="533.50,1343.50 537.00,1349.10 530.00,1349.10" fill="#2a9a72"/>
<polygon points="547.70,1389.20 551.20,1394.80 544.20,1394.80" fill="#2a9a72"/>
<polygon points="577.70,1405.70 581.20,1411.30 574.20,1411.30" fill="#2a9a72"/>
<polygon points="607.30,1404.80 610.80,1410.40 603.80,1410.40" fill="#2a9a72"/>
</svg>
</body></html>
